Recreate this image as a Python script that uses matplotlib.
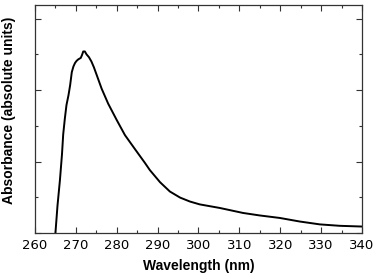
import matplotlib
matplotlib.use("Agg")
import matplotlib.pyplot as plt
from matplotlib.ticker import MultipleLocator

wavelength = [265.0, 265.5, 266.1, 266.6, 266.9, 267.3, 267.7, 268.2, 268.6, 269.0,
              269.4, 269.8, 270.2, 270.6, 271.2, 271.5, 271.8, 272.2, 272.6, 273.2,
              273.8, 274.4, 275.1, 276.3, 277.9, 280.0, 282.0, 284.5, 286.9, 288.1,
              290.6, 293.0, 295.5, 297.9, 300.3, 305.2, 310.9, 315.0, 319.9, 324.8,
              329.7, 334.6, 340.0]
absorbance = [0.0, 0.38, 0.74, 1.10, 1.38, 1.60, 1.79, 1.93, 2.07, 2.25,
              2.33, 2.38, 2.41, 2.43, 2.45, 2.49, 2.54, 2.54, 2.50, 2.46,
              2.40, 2.32, 2.21, 2.02, 1.81, 1.58, 1.37, 1.17, 0.98, 0.88,
              0.71, 0.58, 0.495, 0.44, 0.40, 0.35, 0.28, 0.245, 0.21, 0.16,
              0.12, 0.10, 0.09]
xticks = [260, 270, 280, 290, 300, 310, 320, 330, 340]

fig = plt.figure(figsize=(3.78, 2.79), dpi=100)
ax = fig.add_axes([0.0926, 0.165, 0.865, 0.817])
ax.plot(wavelength, absorbance, color="black", lw=1.4, solid_joinstyle="round")
ax.set_xlim(260, 340)
ax.set_ylim(0, 3.19)
ax.set_xticks(xticks)
ax.xaxis.set_minor_locator(MultipleLocator(5))
ax.yaxis.set_major_locator(MultipleLocator(1))
ax.yaxis.set_minor_locator(MultipleLocator(0.5))
ax.set_yticklabels([])
ax.tick_params(which="both", direction="in", top=True, right=True, width=0.8, color="#333333")
ax.tick_params(which="major", length=4, labelsize=9.5, pad=4.5)
ax.tick_params(which="minor", length=2.5)
for s in ax.spines.values():
    s.set_linewidth(0.9)
    s.set_color("#333333")
ax.set_xlabel("Wavelength (nm)", fontsize=10, fontweight="bold", labelpad=5,
              family="Liberation Sans")
ax.set_ylabel("Absorbance (absolute units)", fontsize=10, fontweight="bold",
              family="Liberation Sans")
ax.yaxis.set_label_coords(-0.058, 0.54)
fig.savefig("out.png", dpi=100)
